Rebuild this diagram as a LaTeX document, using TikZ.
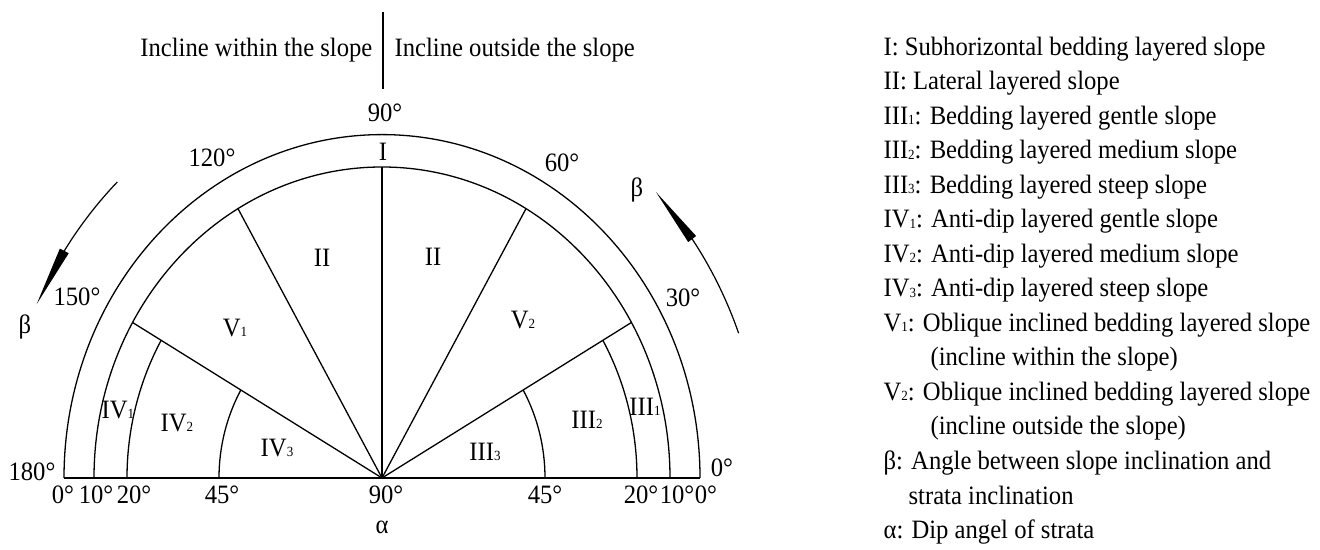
\documentclass[tikz,border=0pt]{standalone}
\usepackage{fontspec}
\setmainfont{Liberation Serif}
\usetikzlibrary{calc}
\newcommand{\sbs}[1]{\raisebox{-0.5pt}{\fontsize{14}{14}\selectfont #1}}
\begin{document}
\begin{tikzpicture}[x=1pt,y=1pt,line width=1.3pt,
  every node/.style={font=\fontsize{26.5}{30}\selectfont, xscale=0.93, inner sep=0pt},
  lg/.style={anchor=west, text height=20pt, text depth=3pt},
  arrowline/.style={line width=1.2pt}]
\useasboundingbox (0,0) rectangle (1320,549);
\coordinate (C) at (382,71);
\coordinate (L0) at (64,71);
\coordinate (R0) at (700,71);
% semicircles
\draw (R0) arc[start angle=0,end angle=180,x radius=318,y radius=343.4];
\draw[line width=1.8pt] (L0) -- (R0);
\draw (C) ++(288,0) arc[start angle=0,end angle=180,x radius=288,y radius=311];
\draw (C) ++(255,0) arc[start angle=0,end angle=30,x radius=255,y radius=275.4];
\draw (C) ++(-255,0) arc[start angle=180,end angle=150,x radius=255,y radius=275.4];
\draw (C) ++(163,0) arc[start angle=0,end angle=30,x radius=163,y radius=176];
\draw (C) ++(-163,0) arc[start angle=180,end angle=150,x radius=163,y radius=176];
% rays
\foreach \t in {30,60,90,120,150}
  \draw (C) -- ($(C)+({288*cos(\t)},{311*sin(\t)})$);
% right beta arrow
\draw[arrowline] (C) ++({381*cos(20.6)},{411.5*sin(20.6)}) arc[start angle=20.6,end angle=36,x radius=381,y radius=411.5];
\coordinate (rt) at ($(C)+({381*cos(44)},{411.5*sin(44)})$);
\coordinate (rb) at ($(C)+({381*cos(35.5)},{411.5*sin(35.5)})$);
\fill (rt) -- ($(rb)!5pt!90:(rt)$) -- ($(rb)!5pt!-90:(rt)$) -- cycle;
% left beta arrow
\draw[arrowline] (C) ++({381*cos(134)},{411.5*sin(134)}) arc[start angle=134,end angle=147,x radius=381,y radius=411.5];
\coordinate (lt) at ($(C)+({381*cos(155)},{411.5*sin(155)})$);
\coordinate (lb) at ($(C)+({381*cos(146.5)},{411.5*sin(146.5)})$);
\fill (lt) -- ($(lb)!5pt!90:(lt)$) -- ($(lb)!5pt!-90:(lt)$) -- cycle;
% angle labels
\node (a90) at (385,436) {90°};
\node (a120) at (212,391) {120°};
\node (a60) at (562,386) {60°};
\node (bR) at (637,359) {β};
\node (a150) at (77,252) {150°};
\node (bL) at (25,222) {β};
\node (a30) at (683,251) {30°};
\node (a180) at (32,77) {180°};
\node (a0) at (722,81) {0°};
\node (b0L) at (63,54) {0°};
\node (b10L) at (96,54) {10°};
\node (b20L) at (134,54) {20°};
\node (b45L) at (222,54) {45°};
\node (b90) at (386,54) {90°};
\node (b45R) at (545,54) {45°};
\node (b20R) at (641,54) {20°};
\node (b10R) at (677,54) {10°};
\node (b0R) at (706,54) {0°};
\node (alpha) at (382,22) {α};
% sector labels
\node (sI) at (383,397) {I};
\node (sIIL) at (322,291) {II};
\node (sIIR) at (433,292) {II};
\node (sV1) at (235,221) {V\sbs{1}};
\node (sV2) at (523,229) {V\sbs{2}};
\node (sIV1) at (118,139) {IV\sbs{1}};
\node (sIV2) at (177,126) {IV\sbs{2}};
\node (sIV3) at (277,101) {IV\sbs{3}};
\node (sIII3) at (485,97) {III\sbs{3}};
\node (sIII2) at (587,129) {III\sbs{2}};
\node (sIII1) at (645,142) {III\sbs{1}};
% top caption
\coordinate (dT) at (383,537);
\coordinate (dB) at (383,460);
\draw (dT) -- (dB);
\node[anchor=east] (tw) at (373,499) {Incline within the slope};
\node[anchor=west] (to) at (394,499) {Incline outside the slope};
% legend
\node[lg] (l1) at (883,502) {I: Subhorizontal bedding layered slope};
\node[lg] (l2) at (883,467.5) {II: Lateral layered slope};
\node[lg] (l3) at (883,433) {III\sbs{1}: Bedding layered gentle slope};
\node[lg] (l4) at (883,398.5) {III\sbs{2}: Bedding layered medium slope};
\node[lg] (l5) at (883,364) {III\sbs{3}: Bedding layered steep slope};
\node[lg] (l6) at (883,329.5) {IV\sbs{1}: Anti-dip layered gentle slope};
\node[lg] (l7) at (883,295) {IV\sbs{2}: Anti-dip layered medium slope};
\node[lg] (l8) at (883,260.5) {IV\sbs{3}: Anti-dip layered steep slope};
\node[lg] (l9) at (883,226) {V\sbs{1}: Oblique inclined bedding layered slope};
\node[lg] (l10) at (930,191.5) {(incline within the slope)};
\node[lg] (l11) at (883,157) {V\sbs{2}: Oblique inclined bedding layered slope};
\node[lg] (l12) at (930,122.5) {(incline outside the slope)};
\node[lg] (l13) at (883,88) {β: Angle between slope inclination and};
\node[lg] (l14) at (908,53.5) {strata inclination};
\node[lg] (l15) at (883,19) {α: Dip angel of strata};
\end{tikzpicture}
\end{document}
